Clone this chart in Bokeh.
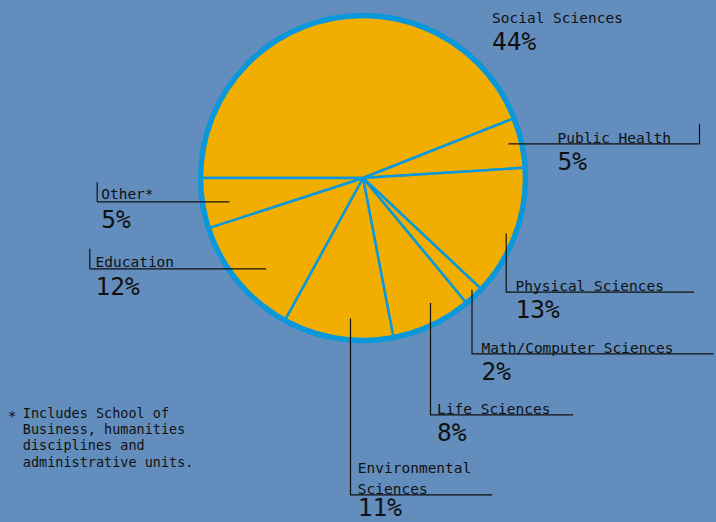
import math
from bokeh.plotting import figure
from bokeh.models import Range1d
from bokeh.core.properties import value
from bokeh.embed import file_html
from bokeh.resources import INLINE

# ---- data ----
categories = ["Social Sciences", "Public Health", "Physical Sciences",
              "Math/Computer Sciences", "Life Sciences", "Environmental Sciences",
              "Education", "Other*"]
shares = [44, 5, 13, 2, 8, 11, 12, 5]
label_lines = [["Social Sciences"], ["Public Health"], ["Physical Sciences"],
               ["Math/Computer Sciences"], ["Life Sciences"], ["Environmental", "Sciences"],
               ["Education"], ["Other*"]]
footnote = ["Includes School of", "Business, humanities", "disciplines and",
            "administrative units."]

W, H = 716, 522
BG = "#628DBD"
FILL = "#F2AE00"
RING = "#0B98DA"
INK = "#111111"
FONT = "DejaVu Sans Mono"
SHIFT = 0.37  # em correction for the renderer's baseline placement


def Y(s):
    return H - s


p = figure(width=W, height=H, x_range=Range1d(0, W), y_range=Range1d(0, H),
           output_backend="svg", toolbar_location=None, min_border=0,
           x_axis_location=None, y_axis_location=None)
p.background_fill_color = BG
p.border_fill_color = BG
p.outline_line_color = None
p.grid.visible = False
p.styles = {"background-color": BG}

cx, cy, r = 362.5, Y(177.5), 162.5

# wedges, clockwise starting at 9 o'clock
total = float(sum(shares))
starts, ends = [], []
cum = 0.0
for v in shares:
    starts.append(math.pi - 2 * math.pi * cum / total)
    cum += v
    ends.append(math.pi - 2 * math.pi * cum / total)

p.wedge(x=[cx] * len(shares), y=[cy] * len(shares), radius=r - 1,
        start_angle=starts, end_angle=ends, direction="clock",
        fill_color=FILL, line_color=RING, line_width=2.5)
p.circle(x=[cx], y=[cy], radius=r, fill_color=None, line_color=RING, line_width=5.5)


def txt(x, base, t, size):
    p.text(x=[x], y=[Y(base - SHIFT * size)], text=[t], text_font=value(FONT),
           text_font_size=f"{size}px", text_color=INK, text_baseline="alphabetic",
           text_align="left")


# label layout: (text x, first label baseline, pct baseline, leader polyline)
layout = [
    (491.5, 23, 50, None),
    (557, 142.5, 170, ([508, 699, 699], [143.3, 143.3, 123.3])),
    (515, 290.5, 318, ([505.7, 505.7, 693.5], [233, 291.7, 291.7])),
    (481, 353, 380, ([471.5, 471.5, 713], [289.3, 353.3, 353.3])),
    (436.5, 414, 441.5, ([430, 430, 572.5], [302.5, 414.3, 414.3])),
    (357.3, 473, 516.5, ([350, 350, 491.7], [318, 494.3, 494.3])),
    (95, 266.7, 295, ([265.7, 89.3, 89.3], [268.3, 268.3, 248.3])),
    (100.7, 199.3, 228, ([229, 96.7, 96.7], [201.3, 201.3, 181.7])),
]

for (tx, lb, pb, lead), lines, v in zip(layout, label_lines, shares):
    if lead is not None:
        p.line(x=lead[0], y=[Y(s) for s in lead[1]], line_color=INK, line_width=1.2)
    for i, t in enumerate(lines):
        txt(tx, lb + 21 * i, t, 14.5)
    txt(tx, pb, f"{v}%", 24.5)

# footnote
txt(7.5, 421, "*", 14)
for i, t in enumerate(footnote):
    txt(22.3, 417.7 + 16.1 * i, t, 13.5)

open("out.html", "w").write(file_html(p, INLINE))
